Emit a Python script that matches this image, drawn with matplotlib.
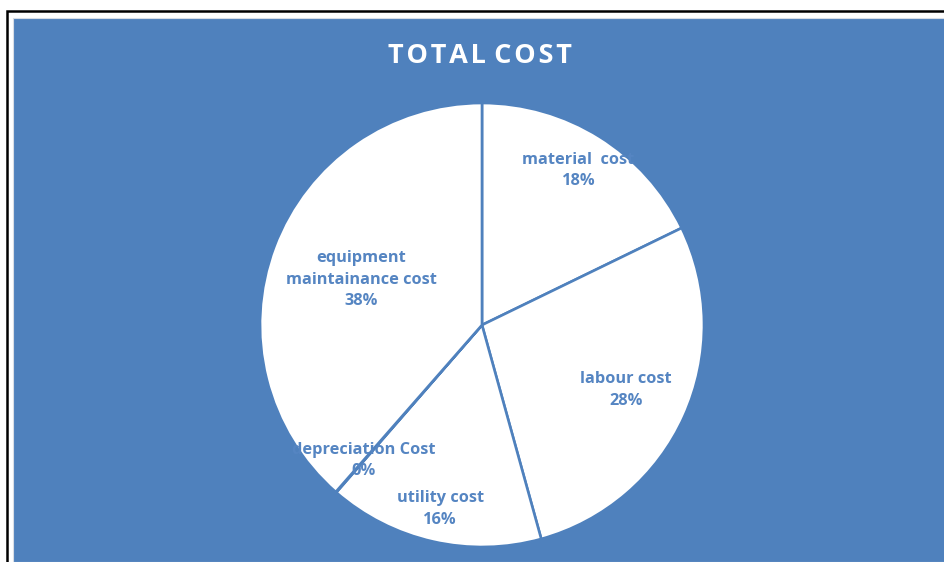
import matplotlib
matplotlib.use("Agg")
import matplotlib.pyplot as plt
from matplotlib.patches import Rectangle
import numpy as np

categories = ["material  cost", "labour cost", "utility cost", "depreciation Cost", "equipment\nmaintainance cost"]
values = [17.8, 27.9, 15.7, 0.05, 38.55]
pct_labels = ["18%", "28%", "16%", "0%", "38%"]
label_dist = [0.82, 0.71, 0.85, 0.81, 0.58]

BLUE = "#4F81BD"
W, H = 944, 562
fig = plt.figure(figsize=(W / 100, H / 100), dpi=100)
fig.patch.set_facecolor("white")

# outer frame and blue chart area
fig.add_artist(Rectangle((7 / W, -0.05), 1.1, (H - 11) / H + 0.05, transform=fig.transFigure,
                         facecolor="white", edgecolor="black", linewidth=1.8, zorder=-3))
fig.add_artist(Rectangle((13 / W, 0), 1.0, (H - 18) / H, transform=fig.transFigure,
                         facecolor=BLUE, edgecolor="#d8dde6", linewidth=0.8, zorder=-2))

fig.text(480 / W, 1 - 56 / H, "T O T A L   C O S T".replace(" ", "\u200a"), color="white",
         fontsize=19.5, fontweight="bold", ha="center", va="center", family="Open Sans")

cx, cy, r = 482, H - 325, 222
ax = fig.add_axes([(cx - r) / W, (cy - r) / H, 2 * r / W, 2 * r / H])
ax.set_zorder(1)
wedges, _ = ax.pie(values, startangle=90, counterclock=False, colors=["white"] * len(values),
                   wedgeprops=dict(edgecolor=BLUE, linewidth=1.9))
ax.set_aspect("equal")
ax.set_xlim(-1, 1)
ax.set_ylim(-1, 1)

for w, name, pct, d in zip(wedges, categories, pct_labels, label_dist):
    ang = np.deg2rad((w.theta1 + w.theta2) / 2)
    ax.text(d * np.cos(ang), d * np.sin(ang), f"{name}\n{pct}", ha="center", va="center",
            color="#5585C2", fontsize=11.8, fontweight="bold", family="Open Sans", linespacing=1.45)

fig.savefig("out.png", dpi=100)
